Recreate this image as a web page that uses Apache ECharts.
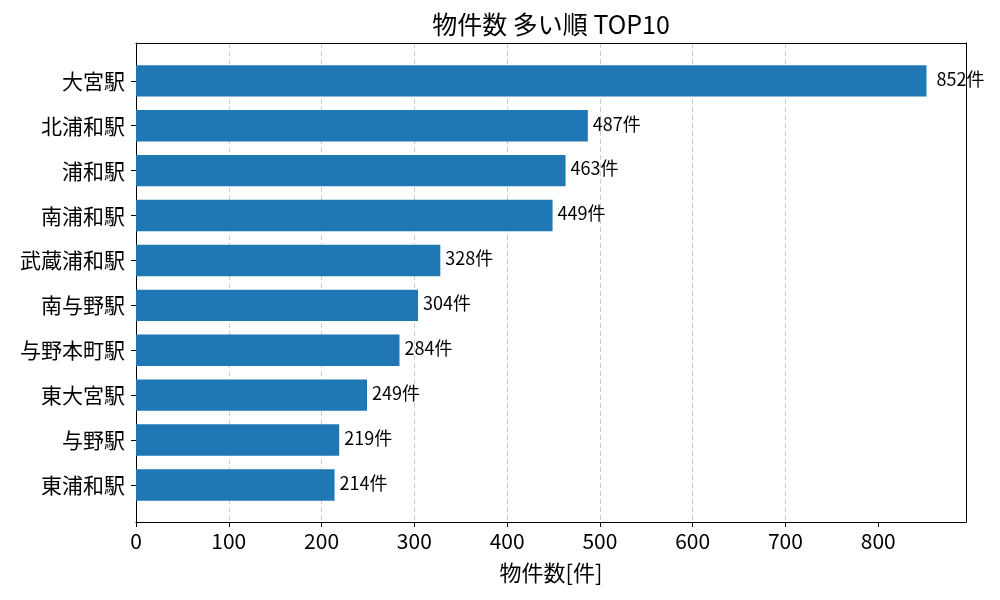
<!DOCTYPE html>
<html>
<head>
<meta charset="utf-8">
<script src="https://cdn.jsdelivr.net/npm/echarts@6/dist/echarts.min.js"></script>
<style>
  html, body { margin: 0; padding: 0; background: #fff; }
  #chart { width: 1000px; height: 600px; }
</style>
</head>
<body>
<div id="chart"></div>
<script>
// Data
const stations = ['大宮駅', '北浦和駅', '浦和駅', '南浦和駅', '武蔵浦和駅', '南与野駅', '与野本町駅', '東大宮駅', '与野駅', '東浦和駅'];
const counts = [852, 487, 463, 449, 328, 304, 284, 249, 219, 214];
const xTicks = [0, 100, 200, 300, 400, 500, 600, 700, 800];

const FONT = '"Noto Sans CJK JP", "Noto Sans", sans-serif';
const xMax = Math.max(...counts) * 1.05;

document.addEventListener('DOMContentLoaded', function() {
    const chart = echarts.init(document.getElementById('chart'));

    // plain black line used for the frame
    const frameLine = { show: true, onZero: false, lineStyle: { color: '#000', width: 1 } };

    const option = {
        animation: false,
        backgroundColor: '#ffffff',
        textStyle: { fontFamily: FONT },
        title: {
            text: '物件数 多い順 TOP10',
            left: 551,
            top: 12,
            padding: 0,
            textAlign: 'center',
            textStyle: { fontFamily: FONT, fontSize: 25, fontWeight: 'normal', color: '#000' }
        },
        grid: [
            // frame + x axis
            { left: 136, right: 34, top: 43, bottom: 78 },
            // bars (category band matches matplotlib margins)
            { left: 136, right: 34, top: 58.4, bottom: 92.6 }
        ],
        xAxis: [
            {
                gridIndex: 0,
                type: 'value',
                min: 0,
                max: xMax,
                interval: 100,
                name: '物件数[件]',
                nameLocation: 'middle',
                nameGap: 40,
                nameTextStyle: { fontFamily: FONT, fontSize: 22, color: '#000' },
                axisLine: frameLine,
                axisTick: { show: true, length: 5, customValues: xTicks, lineStyle: { color: '#000' } },
                axisLabel: { fontFamily: FONT, fontSize: 21, color: '#000', margin: 9, customValues: xTicks },
                splitLine: { show: true, showMinLine: false, showMaxLine: false, lineStyle: { color: '#cccccc', type: [5, 3], width: 1 } }
            },
            {
                gridIndex: 0,
                type: 'value',
                position: 'top',
                min: 0,
                max: xMax,
                axisLine: frameLine,
                axisTick: { show: false },
                axisLabel: { show: false },
                splitLine: { show: false }
            },
            {
                gridIndex: 1,
                type: 'value',
                min: 0,
                max: xMax,
                show: false
            }
        ],
        yAxis: [
            {
                gridIndex: 0,
                type: 'value',
                position: 'left',
                axisLine: frameLine,
                axisTick: { show: false },
                axisLabel: { show: false },
                splitLine: { show: false }
            },
            {
                gridIndex: 0,
                type: 'value',
                position: 'right',
                axisLine: frameLine,
                axisTick: { show: false },
                axisLabel: { show: false },
                splitLine: { show: false }
            },
            {
                gridIndex: 1,
                type: 'category',
                inverse: true,
                data: stations,
                axisLine: { show: false },
                axisTick: { show: true, alignWithLabel: true, length: 5, lineStyle: { color: '#000' } },
                axisLabel: { fontFamily: FONT, fontSize: 21, color: '#000', margin: 11 },
                splitLine: { show: false }
            }
        ],
        series: [
            {
                type: 'bar',
                xAxisIndex: 2,
                yAxisIndex: 2,
                barWidth: '70%',
                itemStyle: { color: '#1f77b4' },
                z: 3,
                data: counts.map(function(v, i) {
                    return i === 0 ? { value: v, label: { distance: 10 } } : v;
                }),
                label: {
                    show: true,
                    position: 'right',
                    distance: 5,
                    offset: [0, -2],
                    formatter: '{c}件',
                    fontFamily: FONT,
                    fontSize: 18,
                    color: '#000'
                }
            }
        ]
    };
    chart.setOption(option);
});
</script>
</body>
</html>
